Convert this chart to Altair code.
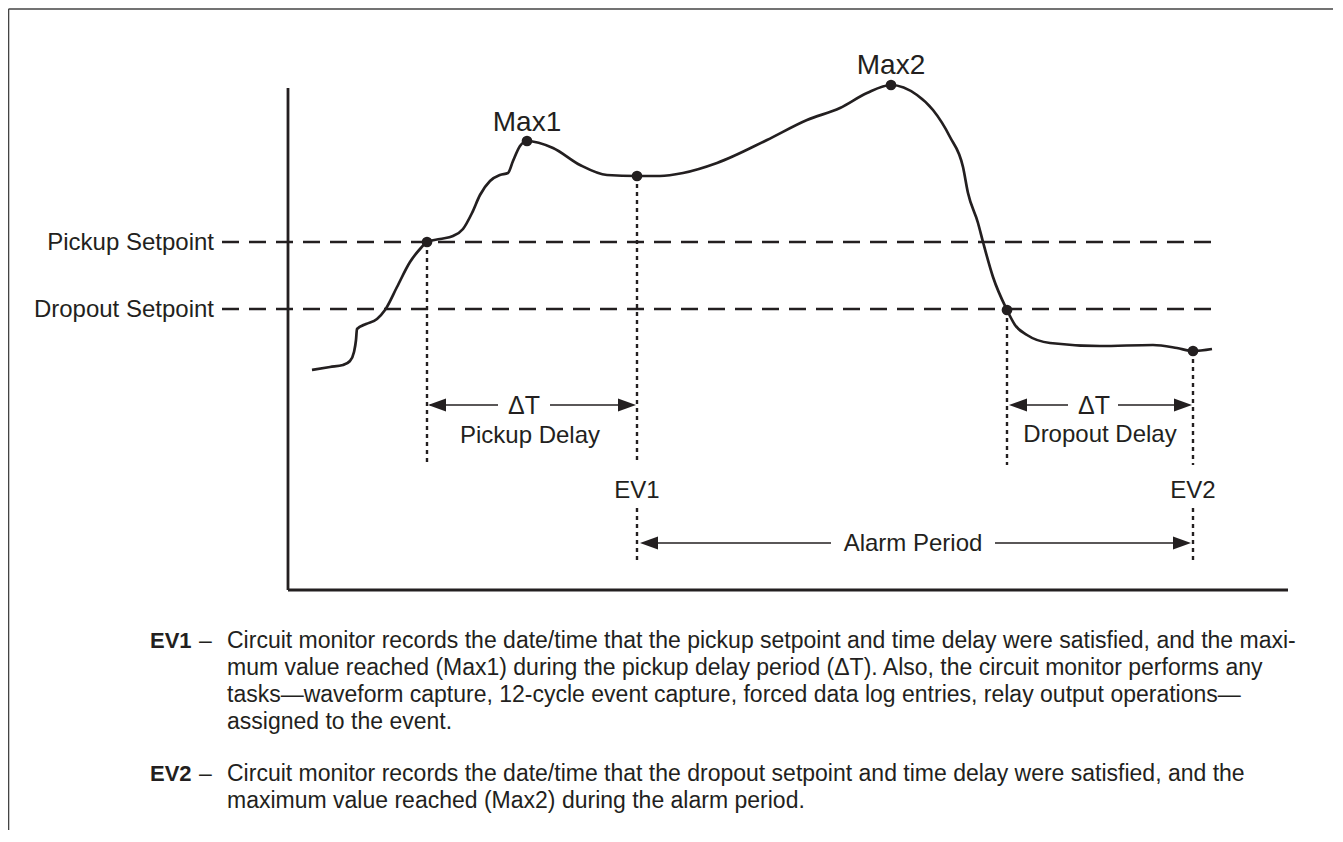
import altair as alt
import pandas as pd

W, H = 1325, 822
X0, Y0 = 8, 8
INK = "#231f20"
FONT = "Liberation Sans"

# ---- signal curve (diagram units = page pixels) ----
curve_x = [312, 330, 343, 350, 354, 356, 357, 366, 377, 385, 397, 410, 420, 427,
           440, 453, 463, 472, 480, 490, 500, 508, 513, 520, 527, 553, 580, 607,
           637, 660, 683, 717, 767, 807, 840, 867, 891, 917, 933, 950, 963, 968,
           978, 983, 993, 1007, 1015, 1027, 1050, 1100, 1153, 1177, 1193, 1212]
curve_y = [370, 367, 365, 361, 352, 340, 329, 324, 319, 310, 287, 262, 249, 242,
           239, 236, 229, 213, 195, 181, 175, 173, 161, 146, 141, 148, 165, 175,
           176, 176, 173, 163, 140, 120, 108, 93, 85, 95, 110, 137, 167, 193,
           223, 242, 277, 310, 325, 335, 343, 346, 345, 348, 351, 349]

dot_x = [427, 527, 637, 891, 1007, 1193]
dot_y = [242, 141, 176, 85, 310, 351]

# axes
axis_x1 = [288, 288]
axis_x2 = [288, 1288]
axis_y1 = [88, 590]
axis_y2 = [590, 590]

# frame
frame_x1 = [8.5, 8.5]
frame_x2 = [1343, 8.5]
frame_y1 = [9, 9]
frame_y2 = [9, 842]

# setpoints
setpoint_names = ["Pickup Setpoint", "Dropout Setpoint"]
setpoint_y = [242, 309]
setpoint_x1 = [222, 222]
setpoint_x2 = [1220, 1220]

# dotted event markers
dotted_x = [427, 637, 637, 1007, 1193, 1193]
dotted_y1 = [242, 176, 508, 310, 351, 508]
dotted_y2 = [463, 463, 560, 465, 465, 560]

# arrow shafts
shaft_x1 = [430, 550, 1012, 1118, 645, 995]
shaft_x2 = [498, 632, 1068, 1188, 831, 1186]
shaft_y = [405, 405, 405, 405, 543, 543]

# arrow heads
head_x = [428, 636, 1009, 1192, 640, 1191]
head_y = [405, 405, 405, 405, 543, 543]
head_dir = ["left", "right", "left", "right", "left", "right"]

# labels
label_text = ["Max1", "Max2", "ΔT", "Pickup Delay", "ΔT", "Dropout Delay",
              "EV1", "EV2", "Alarm Period", "Pickup Setpoint", "Dropout Setpoint"]
label_x = [527, 891, 524, 530, 1094, 1100, 637, 1193, 913, 214, 214]
label_y = [131, 74, 414, 443, 414, 442, 498, 498, 551, 250, 317]
label_size = [28, 28, 25, 24, 25, 24, 24, 24, 24, 24, 24]
label_align = ["center"] * 9 + ["right", "right"]

# description
desc_tags = ["EV1", "EV2"]
desc_tag_y = [648, 781]
desc_lines = [
    "Circuit monitor records the date/time that the pickup setpoint and time delay were satisfied, and the maxi-",
    "mum value reached (Max1) during the pickup delay period (ΔT). Also, the circuit monitor performs any",
    "tasks\u2014waveform capture, 12-cycle event capture, forced data log entries, relay output operations\u2014",
    "assigned to the event.",
    "Circuit monitor records the date/time that the dropout setpoint and time delay were satisfied, and the",
    "maximum value reached (Max2) during the alarm period.",
]
desc_y = [648, 675, 702, 729, 781, 808]

# ---------------------------------------------------------------
xs = alt.Scale(domain=[X0, X0 + W], nice=False, zero=False)
ys = alt.Scale(domain=[Y0, Y0 + H], nice=False, zero=False, reverse=True)


def X(f="x"):
    return alt.X(f"{f}:Q", scale=xs, axis=None)


def Y(f="y"):
    return alt.Y(f"{f}:Q", scale=ys, axis=None)


curve = alt.Chart(pd.DataFrame({"x": curve_x, "y": curve_y})).mark_line(
    color=INK, strokeWidth=2.7, interpolate="monotone"
).encode(x=X(), y=Y())

dots = alt.Chart(pd.DataFrame({"x": dot_x, "y": dot_y})).mark_point(
    filled=True, color=INK, size=115, opacity=1, shape="circle"
).encode(x=X(), y=Y())

axes = alt.Chart(pd.DataFrame({"x": axis_x1, "x2": axis_x2, "y": axis_y1, "y2": axis_y2})).mark_rule(
    color=INK, strokeWidth=2.8
).encode(x=X(), x2="x2:Q", y=Y(), y2="y2:Q")

frame = alt.Chart(pd.DataFrame({"x": frame_x1, "x2": frame_x2, "y": frame_y1, "y2": frame_y2})).mark_rule(
    color="#444444", strokeWidth=1.6
).encode(x=X(), x2="x2:Q", y=Y(), y2="y2:Q")

setpoints = alt.Chart(pd.DataFrame({"name": setpoint_names, "x": setpoint_x1, "x2": setpoint_x2, "y": setpoint_y})).mark_rule(
    color=INK, strokeWidth=2.5, strokeDash=[17, 10]
).encode(x=X(), x2="x2:Q", y=Y())

dotted = alt.Chart(pd.DataFrame({"x": dotted_x, "y": dotted_y1, "y2": dotted_y2})).mark_rule(
    color=INK, strokeWidth=2.4, strokeDash=[4, 4]
).encode(x=X(), y=Y(), y2="y2:Q")

shafts = alt.Chart(pd.DataFrame({"x": shaft_x1, "x2": shaft_x2, "y": shaft_y})).mark_rule(
    color=INK, strokeWidth=1.5
).encode(x=X(), x2="x2:Q", y=Y())

heads_df = pd.DataFrame({"x": head_x, "y": head_y, "dir": head_dir})
heads_left = alt.Chart(heads_df[heads_df["dir"] == "left"]).mark_point(
    shape="M0,0L2,-0.72L2,0.72Z", filled=True, color=INK, size=324, opacity=1, strokeWidth=0
).encode(x=X(), y=Y())
heads_right = alt.Chart(heads_df[heads_df["dir"] == "right"]).mark_point(
    shape="M0,0L-2,-0.72L-2,0.72Z", filled=True, color=INK, size=324, opacity=1, strokeWidth=0
).encode(x=X(), y=Y())

lab_df = pd.DataFrame({"t": label_text, "x": label_x, "y": label_y, "s": label_size, "a": label_align})
labels_c = alt.Chart(lab_df[lab_df["a"] == "center"]).mark_text(
    font=FONT, color=INK, baseline="alphabetic", align="center"
).encode(x=X(), y=Y(), text="t:N", size=alt.Size("s:Q", scale=None, legend=None))
labels_r = alt.Chart(lab_df[lab_df["a"] == "right"]).mark_text(
    font=FONT, color=INK, baseline="alphabetic", align="right"
).encode(x=X(), y=Y(), text="t:N", size=alt.Size("s:Q", scale=None, legend=None))

tags = alt.Chart(pd.DataFrame({"t": desc_tags, "y": desc_tag_y, "x": [150, 150]})).mark_text(
    font=FONT, color=INK, fontWeight="bold", fontSize=22, baseline="alphabetic", align="left"
).encode(x=X(), y=Y(), text="t:N")
dashes = alt.Chart(pd.DataFrame({"t": ["\u2013", "\u2013"], "y": desc_tag_y, "x": [199, 199]})).mark_text(
    font=FONT, color=INK, fontSize=23, baseline="alphabetic", align="left"
).encode(x=X(), y=Y(), text="t:N")
desc = alt.Chart(pd.DataFrame({"t": desc_lines, "y": desc_y, "x": [227] * 6})).mark_text(
    font=FONT, color=INK, fontSize=23, baseline="alphabetic", align="left"
).encode(x=X(), y=Y(), text="t:N")

chart = alt.layer(
    frame, axes, setpoints, dotted, shafts, heads_left, heads_right,
    curve, dots, labels_c, labels_r, tags, dashes, desc
).properties(
    width=W, height=H, padding=0, autosize=alt.AutoSizeParams(type="none"),
    background="white"
).configure_view(stroke=None)

chart.save("out.html", embed_options={"renderer": "svg", "actions": False})
